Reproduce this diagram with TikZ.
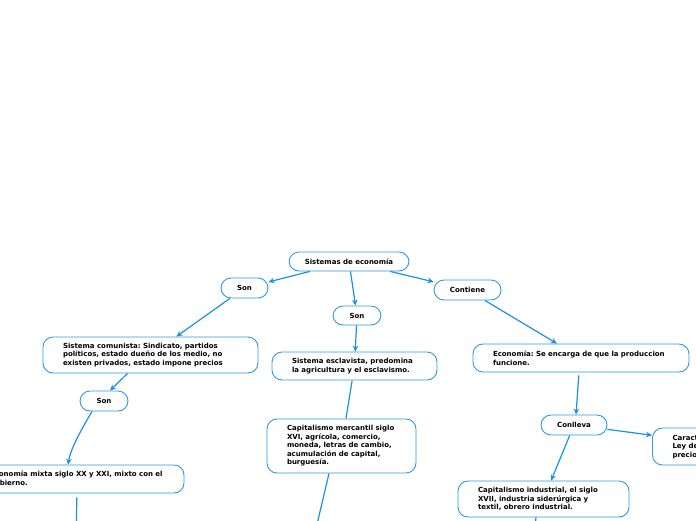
\documentclass[tikz,border=0pt]{standalone}
\usepackage{fontspec}
\setmainfont{DejaVu Sans}
\frenchspacing
\usetikzlibrary{arrows.meta}
\definecolor{bcol}{RGB}{45,152,228}
\definecolor{lcol}{RGB}{30,144,226}
\tikzset{
  box/.style={draw=bcol, line width=0.9pt, rounded corners=10pt, fill=white,
    inner sep=0pt, font=\fontsize{7}{8.5}\selectfont\bfseries},
  pill/.style={box, align=center},
  para/.style={box, align=left, inner xsep=20pt},
  conn/.style={draw=lcol, line width=1.2pt},
  arr/.style={conn, -{Stealth[length=6pt,width=5.5pt]}}
}
\begin{document}
\begin{tikzpicture}[x=1pt,y=-1pt]
\useasboundingbox (0,0) rectangle (696,520);
\clip (0,0) rectangle (696,520);
% coordinates for lines leaving the picture
\coordinate (mixOut) at (76,560);
\coordinate (mercOut) at (308.6,560);
\coordinate (indOut) at (531,560);
% nodes
\node[pill, minimum width=120pt, minimum height=19pt] (sis) at (349,261.5) {Sistemas de economía};
\node[pill, minimum width=47pt, minimum height=20pt] (sonL) at (244.5,288) {Son};
\node[pill, minimum width=48pt, minimum height=19pt] (sonM) at (357,315.5) {Son};
\node[pill, minimum width=67pt, minimum height=20pt] (cont) at (467.5,290) {Contiene};
\node[para, text width=175pt, minimum height=36pt] (comu) at (150.5,355)
  {\mbox{Sistema comunista: Sindicato, partidos}\\\mbox{políticos, estado dueño de los medio, no}\\\mbox{existen privados, estado impone precios}};
\node[pill, minimum width=48pt, minimum height=20pt] (sonB) at (104,401) {Son};
\node[para, text width=174pt, minimum height=28pt] (mixta) at (77,479)
  {\mbox{Economía mixta siglo XX y XXI, mixto con el}\\\mbox{gobierno.}};
\node[para, text width=125pt, minimum height=28pt] (escl) at (354.5,366)
  {\mbox{Sistema esclavista, predomina}\\\mbox{la agricultura y el esclavismo.}};
\node[para, text width=109pt, minimum height=54pt] (merc) at (341.5,446)
  {\mbox{Capitalismo mercantil siglo}\\\mbox{XVI, agrícola, comercio,}\\\mbox{moneda, letras de cambio,}\\\mbox{acumulación de capital,}\\\mbox{burguesía.}};
\node[para, text width=176pt, minimum height=28pt] (econ) at (581,358)
  {\mbox{Economía: Se encarga de que la produccion}\\\mbox{funcione.}};
\node[pill, minimum width=66pt, minimum height=20pt] (conl) at (574,425) {Conlleva};
\node[para, text width=131pt, minimum height=37pt] (car) at (738,446.5)
  {\mbox{Características:}\\\mbox{Ley de oferta y demanda,}\\\mbox{precios.}};
\node[para, text width=131pt, minimum height=36pt] (ind) at (543.5,499)
  {\mbox{Capitalismo industrial, el siglo}\\\mbox{XVII, industria siderúrgica y}\\\mbox{textil, obrero industrial.}};
% connectors
\draw[arr] (sis) -- (sonL);
\draw[arr] (sis) -- (sonM);
\draw[arr] (sis) -- (cont);
\draw[arr] (sonL) -- (comu);
\draw[arr] ([xshift=-23pt]comu.south) -- ([xshift=6pt]sonB.north);
\draw[arr] ([xshift=-12pt]sonB.south) .. controls (80,432) and (71,448) .. ([xshift=-9pt]mixta.north);
\draw[conn, shorten <=4pt] (mixta) -- (mixOut);
\draw[arr] (sonM) -- (escl);
\draw[conn] (escl) -- (merc);
\draw[conn] ([xshift=-12.5pt]merc.south) -- (mercOut);
\draw[arr] (cont) -- (econ);
\draw[arr, shorten <=3pt] ([xshift=-2pt]econ.south) -- ([xshift=2pt]conl.north);
\draw[arr] (conl) -- (ind);
\draw[arr] (conl) -- (car);
\draw[conn] ([xshift=-7.5pt]ind.south) -- (indOut);
\end{tikzpicture}
\end{document}
